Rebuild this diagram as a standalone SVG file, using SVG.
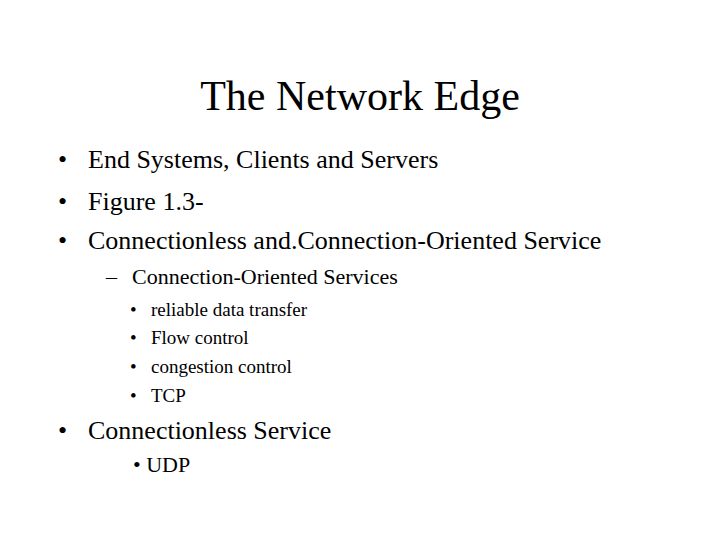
<svg xmlns="http://www.w3.org/2000/svg" width="720" height="540" viewBox="0 0 720 540">
<style>text{font-family:"Liberation Serif",serif;fill:#000}.l1{font-size:26px}.l2{font-size:22px}.l3{font-size:19px}</style>
<rect width="720" height="540" fill="#fff"/>
<text x="360" y="110" text-anchor="middle" font-size="42">The Network Edge</text>
<g class="l1">
<text x="58" y="168">•</text><text x="88" y="168">End Systems, Clients and Servers</text>
<text x="58" y="210">•</text><text x="88" y="210">Figure 1.3-</text>
<text x="58" y="249">•</text><text x="88" y="249">Connectionless and.Connection-Oriented Service</text>
<text x="58" y="439">•</text><text x="88" y="439">Connectionless Service</text>
</g>
<g class="l2"><text x="106" y="284">–</text><text x="132" y="284">Connection-Oriented Services</text></g>
<g class="l3">
<text x="130" y="316">•</text><text x="151" y="316">reliable data transfer</text>
<text x="130" y="344">•</text><text x="151" y="344">Flow control</text>
<text x="130" y="373">•</text><text x="151" y="373">congestion control</text>
<text x="130" y="402">•</text><text x="151" y="402">TCP</text>
</g>
<text x="133" y="472" font-size="22">• UDP</text>
</svg>
